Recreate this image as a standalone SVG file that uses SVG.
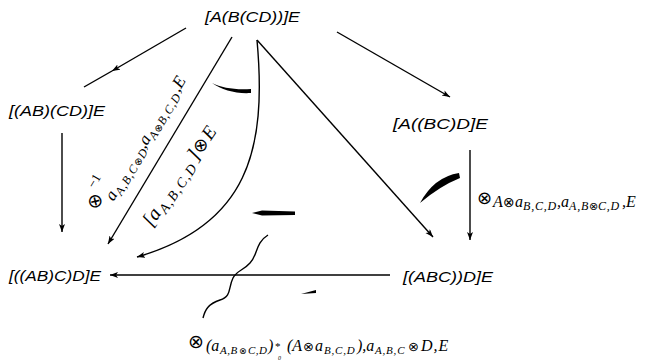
<svg xmlns="http://www.w3.org/2000/svg" width="648" height="361" viewBox="0 0 648 361">
<style>
.node{font-family:"Liberation Sans",Arial,sans-serif;font-style:italic;font-size:15px;fill:#000}
.lab{font-family:"Liberation Serif","Times New Roman",serif;font-style:italic;fill:#000}
.ot{font-family:"DejaVu Sans",sans-serif;font-style:normal}
.ln{stroke:#000;stroke-width:1.4;fill:none}
.ar{marker-end:url(#ah)}
</style>
<defs>
<marker id="ah" markerUnits="userSpaceOnUse" markerWidth="10" markerHeight="8" refX="8" refY="3" orient="auto">
<path d="M0,0 L8,3 L0,6 L2,3 Z" fill="#000"/>
</marker>
</defs>
<rect width="648" height="361" fill="#fff"/>
<g id="connectors">
<line class="ln ar" x1="186" y1="28" x2="112" y2="71"/>
<line class="ln" x1="112" y1="71" x2="84" y2="87"/>
<line class="ln ar" x1="337" y1="32" x2="450" y2="97"/>
<line class="ln ar" x1="62" y1="133" x2="62" y2="232"/>
<line class="ln ar" x1="232" y1="37" x2="108" y2="244"/>
<path class="ln ar" d="M257,40 C267,150 248,225 137,257"/>
<line class="ln ar" x1="257" y1="40" x2="433" y2="237"/>
<line class="ln ar" x1="470" y1="150" x2="470" y2="240"/>
<line class="ln ar" x1="390" y1="275" x2="110" y2="275"/>
<path class="ln" d="M268,235 C255,243 258,255 250,263 C243,271 237,270 233,278 C228,288 232,296 220,300 C208,304 205,310 203,318"/>
</g>
<g id="cells">
<path d="M212,83 C222,88 235,90 251,89 L251,93 C236,94 222,90 212,83 Z" fill="#000"/>
<path d="M252,213 L262,210.5 L295,211.5 L295,215 L262,215.5 Z" fill="#000"/>
<path d="M459,173 Q434,177 420,203 Q440,186 460,178 Z" fill="#000"/>
<path d="M301,294 L316,290 L316,293 Z" fill="#000"/>
</g>
<g id="n-top"><text class="node" x="205" y="22" textLength="95" lengthAdjust="spacingAndGlyphs">[A(B(CD))]E</text></g>
<g id="n-left"><text class="node" x="9" y="116" textLength="96" lengthAdjust="spacingAndGlyphs">[(AB)(CD)]E</text></g>
<g id="n-right"><text class="node" x="393" y="129" textLength="95" lengthAdjust="spacingAndGlyphs">[A((BC)D]E</text></g>
<g id="n-bl"><text class="node" x="9" y="281" textLength="92" lengthAdjust="spacingAndGlyphs">[((AB)C)D]E</text></g>
<g id="n-br"><text class="node" x="403" y="282" textLength="90" lengthAdjust="spacingAndGlyphs">[(ABC))D]E</text></g>
<g id="label-right">
<text class="lab"><tspan class="ot" x="477" y="204" font-size="18">⊗</tspan><tspan x="493" y="207" font-size="16">A</tspan><tspan class="ot" x="503" y="207" font-size="14">⊗</tspan><tspan x="515" y="207" font-size="16">a</tspan><tspan x="523" y="210" font-size="12" letter-spacing="0.8">B,C,D</tspan><tspan x="557" y="207" font-size="16">,a</tspan><tspan x="569" y="210" font-size="12" letter-spacing="0.8">A,B</tspan><tspan class="ot" x="589" y="210" font-size="11">⊗</tspan><tspan x="598" y="210" font-size="12" letter-spacing="0.8">C,D</tspan><tspan x="622" y="207" font-size="16">,E</tspan></text>
</g>
<g id="label-bottom">
<text class="lab"><tspan class="ot" x="188" y="348" font-size="19">⊗</tspan><tspan x="206" y="351" font-size="16">(a</tspan><tspan x="220" y="354" font-size="11" letter-spacing="0.5">A,B</tspan><tspan class="ot" x="239" y="354" font-size="9">⊗</tspan><tspan x="248" y="354" font-size="11" letter-spacing="0.5">C,D</tspan><tspan x="268" y="351" font-size="16">)</tspan><tspan x="275" y="350" font-size="11" font-style="normal">*</tspan></text>
<text class="lab" x="278" y="359.5" font-size="6" font-style="normal">0</text>
<text class="lab"><tspan x="287" y="351" font-size="16">(A</tspan><tspan class="ot" x="303" y="351" font-size="13">⊗</tspan><tspan x="315" y="351" font-size="16">a</tspan><tspan x="324" y="354" font-size="11" letter-spacing="0.8">B,C,D</tspan><tspan x="357" y="351" font-size="16">),a</tspan><tspan x="375" y="354" font-size="11" letter-spacing="0.8">A,B,C</tspan><tspan class="ot" x="408" y="351" font-size="13">⊗</tspan><tspan x="421" y="351" font-size="16" letter-spacing="1">D,E</tspan></text>
</g>
<g id="label-left" transform="translate(108,244) rotate(-59)">
<text class="lab"><tspan class="ot" x="22" y="-27" font-size="19">⊗</tspan><tspan x="40" y="-40" font-size="13" font-style="normal">−1</tspan><tspan x="39" y="-17" font-size="17">a</tspan><tspan x="48" y="-13" font-size="12" letter-spacing="1">A,B,C</tspan><tspan class="ot" x="82" y="-13" font-size="10">⊗</tspan><tspan x="91" y="-13" font-size="12">D</tspan><tspan x="100" y="-17" font-size="17">,a</tspan><tspan x="113" y="-13" font-size="12">A</tspan><tspan class="ot" x="121" y="-13" font-size="10">⊗</tspan><tspan x="130" y="-13" font-size="12" letter-spacing="1">B,C,D</tspan><tspan x="166" y="-17" font-size="17">,E</tspan></text>
</g>
<g id="label-curve" transform="translate(152,228) rotate(-56)">
<text class="lab"><tspan x="0" y="0" font-size="20">[a</tspan><tspan x="19" y="4" font-size="14" letter-spacing="1.5">A,B,C,D</tspan><tspan x="80" y="0" font-size="20">]</tspan><tspan class="ot" x="88" y="0" font-size="18">⊗</tspan><tspan x="105" y="0" font-size="19">E</tspan></text>
</g>
</svg>
